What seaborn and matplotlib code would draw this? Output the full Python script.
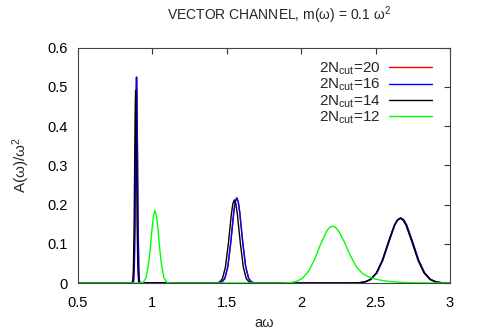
import numpy as np
import matplotlib
matplotlib.use("Agg")
import matplotlib.pyplot as plt
import pandas as pd
import seaborn as sns

# spectral function A(w)/w^2, one curve per 2N_cut
blue_x = [0.5, 0.87, 0.875, 0.88, 0.885, 0.89, 0.8925, 0.895, 0.8975, 0.9, 0.905, 0.91, 0.915, 0.92,
          1.428, 1.448, 1.468, 1.488, 1.508, 1.528, 1.548, 1.558, 1.568, 1.578, 1.588, 1.608, 1.628, 1.648, 1.668, 1.688, 1.708,
          2.309, 2.349, 2.389, 2.429, 2.469, 2.509, 2.549, 2.589, 2.629, 2.649, 2.669, 2.689, 2.709, 2.749, 2.789, 2.829,
          2.869, 2.909, 2.949, 2.989, 3.0]
blue_y = [0, 0.0003, 0.0046, 0.0366, 0.161, 0.391, 0.488, 0.525, 0.488, 0.391, 0.161, 0.0366, 0.0046, 0.0003,
          0, 0.0003, 0.0022, 0.0115, 0.0415, 0.1041, 0.1806, 0.2073, 0.217, 0.2073, 0.1806, 0.1041, 0.0415, 0.0115, 0.0022, 0.0003, 0,
          0, 0.0001, 0.0006, 0.0025, 0.0092, 0.0259, 0.0584, 0.1043, 0.1477, 0.161, 0.166, 0.161, 0.1477, 0.1043, 0.0584, 0.0259,
          0.0092, 0.0025, 0.0006, 0.0001, 0]

# 2N_cut=20 sits right under the 16 curve
red_x = list(blue_x)
red_y = list(blue_y)

black_x = [0.5, 0.864, 0.869, 0.874, 0.879, 0.884, 0.8865, 0.889, 0.8915, 0.894, 0.899, 0.904, 0.909, 0.914,
           1.412, 1.432, 1.452, 1.472, 1.492, 1.512, 1.532, 1.542, 1.552, 1.562, 1.572, 1.592, 1.612, 1.632, 1.652, 1.672, 1.692,
           2.305, 2.345, 2.385, 2.425, 2.465, 2.505, 2.545, 2.585, 2.625, 2.645, 2.665, 2.685, 2.705, 2.745, 2.785, 2.825,
           2.865, 2.905, 2.945, 2.985, 3.0]
black_y = [0, 0.0003, 0.0043, 0.034, 0.150, 0.364, 0.455, 0.49, 0.455, 0.364, 0.150, 0.034, 0.0043, 0.0003,
           0, 0.0003, 0.0021, 0.0112, 0.0406, 0.1017, 0.176, 0.2025, 0.212, 0.2025, 0.176, 0.1017, 0.0406, 0.0112, 0.0021, 0.0003, 0,
           0, 0.0001, 0.0006, 0.0025, 0.0091, 0.0258, 0.058, 0.1037, 0.1469, 0.160, 0.165, 0.160, 0.1469, 0.1037, 0.058, 0.0258,
           0.0091, 0.0025, 0.0006, 0.0001, 0]

green_x = [0.5, 0.899, 0.919, 0.939, 0.959, 0.979, 0.989, 0.999, 1.009, 1.019, 1.029, 1.039, 1.049, 1.059, 1.079, 1.099, 1.119, 1.139,
           1.85, 1.89, 1.93, 1.97, 2.01, 2.05, 2.09, 2.13, 2.17, 2.19, 2.21, 2.23, 2.25, 2.29, 2.33, 2.37, 2.41, 2.45,
           2.49, 2.53, 2.57, 2.61, 2.69, 2.77, 2.85, 3.0]
green_y = [0, 0, 0.0001, 0.0016, 0.0129, 0.0567, 0.095, 0.1376, 0.172, 0.185, 0.172, 0.1376, 0.095, 0.0567, 0.0129, 0.0016, 0.0001, 0,
           0, 0.0002, 0.0011, 0.0041, 0.0123, 0.0299, 0.0596, 0.0977, 0.131, 0.1415, 0.145, 0.142, 0.134, 0.105, 0.0706, 0.042, 0.025, 0.016,
           0.011, 0.0075, 0.005, 0.0032, 0.0013, 0.0004, 0.0001, 0]

labels = ['2N$_\\mathrm{cut}$=20', '2N$_\\mathrm{cut}$=16', '2N$_\\mathrm{cut}$=14', '2N$_\\mathrm{cut}$=12']
colors = ['#ff0000', '#0000ff', '#000000', '#00ff00']
xticks = [0.5, 1, 1.5, 2, 2.5, 3]
yticks = [0, 0.1, 0.2, 0.3, 0.4, 0.5, 0.6]

sns.set_theme(style="white")
plt.rcParams['font.family'] = ['Liberation Sans', 'DejaVu Sans']
plt.rcParams['mathtext.fontset'] = 'custom'
plt.rcParams['mathtext.rm'] = 'Liberation Sans'
plt.rcParams['mathtext.it'] = 'Liberation Sans:italic'

fig = plt.figure(figsize=(4.79, 3.35), dpi=100)
ax = fig.add_axes([0.1622, 0.1552, 0.7773, 0.7024])

series = [(red_x, red_y), (blue_x, blue_y), (black_x, black_y), (green_x, green_y)]
for (xs, ys), lab, col in zip(series, labels, colors):
    d = pd.DataFrame({'x': xs, 'y': ys})
    sns.lineplot(data=d, x='x', y='y', ax=ax, color=col, lw=1.0, label=lab,
                 estimator=None, sort=False)

ax.set_xlim(0.5, 3)
ax.set_ylim(0, 0.6)
ax.set_xticks(xticks)
ax.set_xticklabels(['0.5', '1', '1.5', '2', '2.5', '3'])
ax.set_yticks(yticks)
ax.set_yticklabels(['0', '0.1', '0.2', '0.3', '0.4', '0.5', '0.6'])
ax.tick_params(direction='in', length=4, width=0.8, color='#333333', labelsize=10.5,
               top=True, right=True, labelcolor='black')
ax.tick_params(axis='x', pad=9)
ax.tick_params(axis='y', pad=7)
for s in ax.spines.values():
    s.set_color('#444444')
    s.set_linewidth(0.8)

ax.set_xlabel('a\u03c9', fontsize=10.5, labelpad=5)
ax.set_ylabel('A(\u03c9)/\u03c9$^2$', fontsize=11, labelpad=11)
ax.set_title('VECTOR CHANNEL, m(\u03c9) = 0.1 \u03c9$^2$', fontsize=10, pad=20, x=0.54)

ax.legend(loc='upper right', bbox_to_anchor=(0.952, 0.945), frameon=False, fontsize=11,
          markerfirst=False, handlelength=2.8, handletextpad=0.6, labelspacing=0.0,
          borderpad=0, borderaxespad=0)

fig.savefig('out.png', dpi=100)
